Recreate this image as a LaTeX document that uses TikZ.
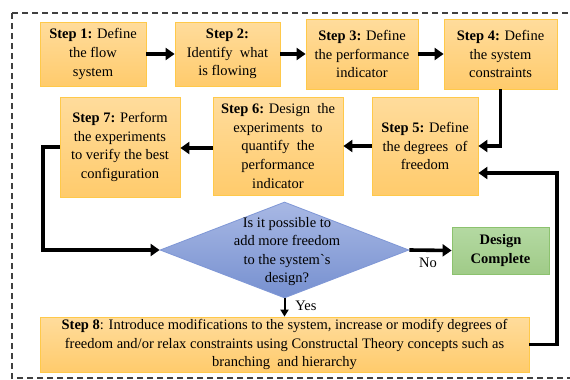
\documentclass[tikz,border=0pt]{standalone}
\usepackage{fontspec}
\setmainfont{Liberation Serif}
\usetikzlibrary{arrows.meta,shapes.geometric}
\definecolor{otop}{HTML}{FFDC9C}
\definecolor{obot}{HTML}{FFCB6C}
\definecolor{oline}{HTML}{FFC94A}
\definecolor{btop}{HTML}{A8B8E4}
\definecolor{bbot}{HTML}{7690D0}
\definecolor{bline}{HTML}{7F97D6}
\definecolor{gtop}{HTML}{B4D9A2}
\definecolor{gbot}{HTML}{A0CB88}
\definecolor{gline}{HTML}{8CC26E}
\tikzset{
  stepbox/.style={draw=oline, line width=0.8pt, top color=otop, bottom color=obot,
    align=center, inner sep=0pt, font=\fontsize{14.5}{18.6}\selectfont},
  decbox/.style={diamond, draw=bline, line width=0.8pt, top color=btop, bottom color=bbot, inner sep=0pt},
  donebox/.style={draw=gline, line width=0.8pt, top color=gtop, bottom color=gbot,
    align=center, inner sep=0pt, font=\bfseries\fontsize{14.5}{18.6}\selectfont},
  txt/.style={align=center, inner sep=0pt, font=\fontsize{14.5}{18.6}\selectfont},
  flow/.style={line width=3.6pt, -{Triangle[length=9pt,width=12pt]}},
  thinflow/.style={line width=2pt, -{Triangle[length=7pt,width=8pt]}},
}
\begin{document}
\begin{tikzpicture}[x=1pt,y=-1pt]
\useasboundingbox (0,0) rectangle (570,380);
\clip (0,0) rectangle (570,380);
\fill[white] (0,0) rectangle (570,380);
\draw[line width=1.5pt, black!75, dash pattern=on 6pt off 4pt] (12,13) rectangle (620,378);

\node[stepbox, minimum width=106pt, minimum height=64pt] (s1) at (93,54)
  {\textbf{Step 1:} Define\\ the flow\\ system};
\node[stepbox, minimum width=105pt, minimum height=64pt] (s2) at (227.5,54)
  {\textbf{Step 2:}\\ Identify\ \ what\\ is flowing};
\node[stepbox, minimum width=112pt, minimum height=70pt] (s3) at (362,54)
  {\textbf{Step 3:} Define\\ the performance\\ indicator};
\node[stepbox, minimum width=113pt, minimum height=70pt] (s4) at (500.5,54)
  {\textbf{Step 4:} Define\\ the system\\ constraints};
\node[stepbox, minimum width=106pt, minimum height=98pt] (s5) at (425,146)
  {\textbf{Step 5:} Define\\ the degrees\ \ of\\ freedom};
\node[stepbox, minimum width=130pt, minimum height=98pt] (s6) at (278,146)
  {\textbf{Step 6:} Design\ \ the\\ experiments\ \ to\\ quantify\ \ the\\ performance\\ indicator};
\node[stepbox, minimum width=120pt, minimum height=100pt] (s7) at (120,147)
  {\textbf{Step 7:} Perform\\ the experiments\\ to verify the best\\ configuration};

\node[decbox, minimum width=249pt, minimum height=96pt] (d) at (284.5,250) {};
\node[txt] (dt) at (287,251.5) {Is it possible to\\ add more freedom\\ to the system\textasciigrave s\\ design?};

\node[donebox, minimum width=97pt, minimum height=47pt] (dc) at (500.5,250.5) {Design\\ Complete};

\node[stepbox, minimum width=489pt, minimum height=55pt] (s8) at (284.5,344.5)
  {\textbf{Step 8}: Introduce modifications to the system, increase or modify degrees of\\
   freedom and/or relax constraints using Constructal Theory concepts such as\\
   branching\ \ and hierarchy};

\node[txt] (no) at (428,263) {No};
\node[txt] (yes) at (306,306) {Yes};

\coordinate (c1) at (43,147);
\coordinate (c2) at (557,173);

\draw[flow] (s1) -- (s2);
\draw[flow] (s2) -- (s3);
\draw[flow] (s3) -- (s4);
\draw[flow] (s4.south) |- (s5.east);
\draw[flow] (s5.west) -- (s6.east);
\draw[flow] (s6.west |- 0,148) -- (s7.east |- 0,148);
\draw[flow] (s7.west) -- (c1) |- (d.west);
\draw[flow] (d.east) -- (dc.west);
\draw[thinflow] (d.south) -- (s8.north);
\draw[flow] (s8.east) -| (c2) -- (c2 -| s5.east);
\end{tikzpicture}
\end{document}
